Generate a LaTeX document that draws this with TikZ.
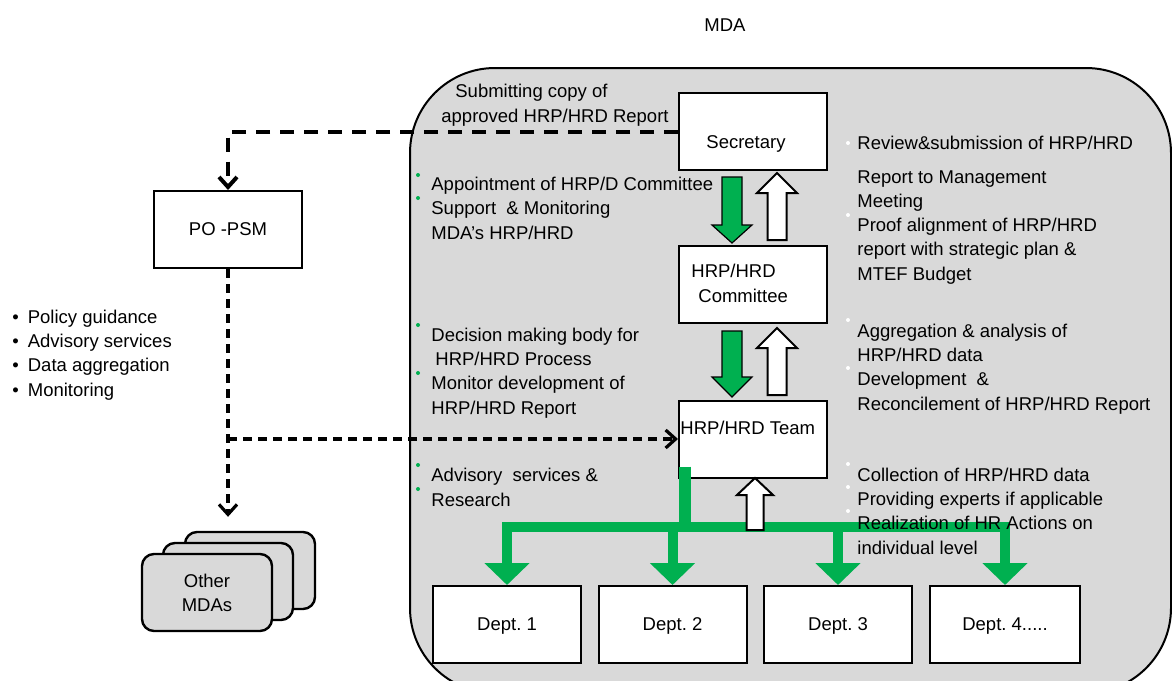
\documentclass[tikz,border=0pt]{standalone}
\usepackage{fontspec}
\setmainfont{Liberation Sans}
\usetikzlibrary{arrows.meta, positioning, calc}
\definecolor{colGreen}{RGB}{0, 176, 80}
\definecolor{colGray}{RGB}{217, 217, 217}

\begin{document}
\begin{tikzpicture}[x=0.5pt, y=-0.5pt,
    every node/.style={font=\fontsize{9.25}{12.1}\selectfont},
    box/.style={draw, fill=white, line width=1pt, minimum width=74pt, minimum height=38.5pt, inner sep=0pt},
    mdabox/.style={draw, fill=colGray, line width=1.2pt, rounded corners=6pt, minimum width=65pt, minimum height=38.5pt, align=center},
    txt/.style={anchor=base west, align=left, inner sep=0pt},
    dashbig/.style={line width=2pt, dash pattern=on 7pt off 5pt},
    dashsmall/.style={line width=1.6pt, dash pattern=on 4.5pt off 3pt},
    tip/.style={-{Straight Barb[length=5pt,width=9pt]}},
    gbus/.style={colGreen, line width=5pt},
    gfat/.style={fill=colGreen, draw=black, line width=0.6pt},
    wfat/.style={fill=white, draw=black, line width=1pt}
]
    \useasboundingbox (0,0) rectangle (1172,680);
    \clip (0,0) rectangle (1172,680);

    % --- MDA area ---
    \node (mdatitle) at (725,25) {MDA};
    \draw[fill=colGray, line width=1pt, rounded corners=42.5pt] (410,68) rectangle (1171,693);

    % --- Boxes ---
    \node[box] (sec) at (753,131.5) {};
    \node[box] (com) at (753,284.5) {};
    \node[box] (team) at (753,439) {};
    \node[box] (po) at (228,229.5) {PO -PSM};
    \foreach \i/\x in {1/507, 2/672.5, 3/838} {
        \node[box, text depth=-8.5pt] (d\i) at (\x,624.5) {Dept.\ \i};
    }
    \node[box, minimum width=75pt, text depth=-8.5pt] (d4) at (1005,624.5) {Dept.\ 4.....};

    \node (sectxt) at (746,144) {Secretary};
    \node[txt] (comtxt) at (691,302) {HRP/HRD\\\hspace*{3.5pt}Committee};
    \node[txt] (teamtxt) at (680,434) {HRP/HRD Team};

    % Other MDAs (stacked)
    \node[mdabox] (mdas3) at (250,570.5) {};
    \node[mdabox] (mdas2) at (228,581.5) {};
    \node[mdabox] (mdas) at (207,592.5) {Other\\MDAs};

    % --- Dashed connectors ---
    \draw[dashbig, tip] (sec.west) -| (po.north);
    \draw[dashsmall, tip, shorten >=7pt] (po.south) -- (po.south |- mdas3.north);
    \draw[dashsmall, tip] (po.south |- team.west) -- (team.west);

    % --- Block arrows between levels ---
    \draw[gfat] (722,177) -- (742,177) -- (742,225) -- (752,225) -- (732,243) -- (712,225) -- (722,225) -- cycle;
    \draw[gfat] (722,331) -- (742,331) -- (742,377) -- (752,377) -- (732,397) -- (712,377) -- (722,377) -- cycle;
    \draw[wfat] (767.5,240) -- (786.5,240) -- (786.5,193) -- (797,193) -- (777,173) -- (757,193) -- (767.5,193) -- cycle;
    \draw[wfat] (767.5,395) -- (786.5,395) -- (786.5,348) -- (797,348) -- (777,328) -- (757,348) -- (767.5,348) -- cycle;

    % --- Team to departments ---
    \coordinate (bus) at (685,527);
    \draw[colGreen, line width=6pt] ($(team.south -| bus)+(0,-12)$) -- (bus);
    \draw[gbus, line cap=rect] (d1.north |- bus) -- (d4.north |- bus);
    \foreach \d in {d1, d2, d3, d4} {
        \draw[gbus, -{Triangle[width=22pt,length=11pt]}] (\d.north |- bus) -- (\d.north);
    }
    \draw[wfat] (746.5,530) -- (763.5,530) -- (763.5,495) -- (773,495) -- (755,478) -- (737,495) -- (746.5,495) -- cycle;

    % --- Bullets ---
    \foreach \y in {175, 198, 325, 373, 465, 489} {
        \fill[colGreen] (418,\y) circle (1pt);
    }
    \foreach \y in {143, 215, 320, 368, 464, 487, 511} {
        \fill[white] (848,\y) circle (1pt);
    }

    % --- Texts (anchored at the baseline of the last line) ---
    \node[txt] (subtxt) at (441,122) {\hspace*{7pt}Submitting copy of\\approved HRP/HRD Report};
    \node[txt] (appt) at (431,239) {Appointment of HRP/D Committee\\Support\ \ \& Monitoring\\MDA's HRP/HRD};
    \node[txt] (dec) at (431,414) {Decision making body for\\\hspace*{2pt}HRP/HRD Process\\Monitor development of\\HRP/HRD Report};
    \node[txt] (adv) at (431,506) {Advisory\ \ services \&\\Research};

    \node[txt] (rev) at (857,280) {Review\&submission of HRP/HRD\\[5pt]Report to Management\\Meeting\\Proof alignment of HRP/HRD\\report with strategic plan \&\\MTEF Budget};
    \node[txt] (agg) at (857,410) {Aggregation \& analysis of\\HRP/HRD data\\Development\ \ \&\\Reconcilement of HRP/HRD Report};
    \node[txt] (coll) at (857,554) {Collection of HRP/HRD data\\Providing experts if applicable\\Realization of HR Actions on\\individual level};

    \node[txt] (polist) at (12,396) {\textbullet\hspace{4.5pt}Policy guidance\\\textbullet\hspace{4.5pt}Advisory services\\\textbullet\hspace{4.5pt}Data aggregation\\\textbullet\hspace{4.5pt}Monitoring};
\end{tikzpicture}
\end{document}
